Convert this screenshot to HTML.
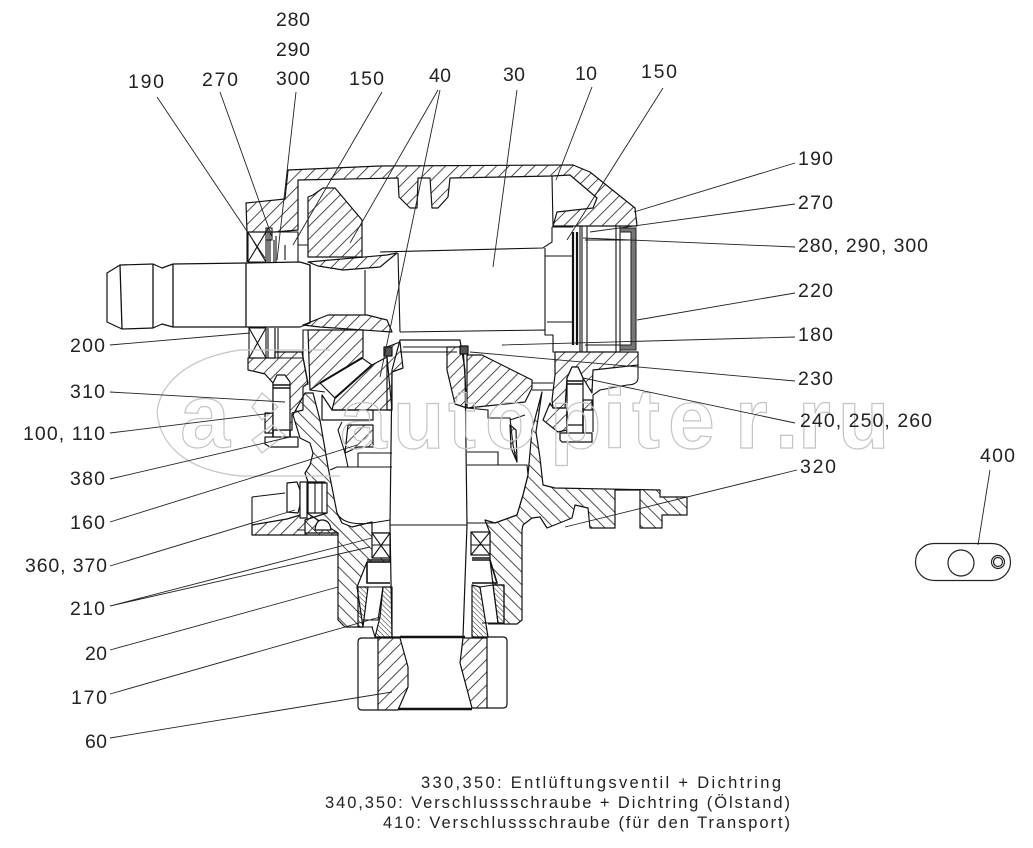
<!DOCTYPE html>
<html><head><meta charset="utf-8"><style>
html,body{margin:0;padding:0;background:#fff}
svg{display:block}
.l{fill:none;stroke:#111;stroke-width:1.1}
.t{stroke:#111;stroke-width:1.2;stroke-linejoin:round}
.a{fill:url(#h1)}.b{fill:url(#h2)}.c{fill:url(#h3)}.w{fill:#fff}
.ld{fill:none;stroke:#222;stroke-width:.9}
text{font-family:"Liberation Sans",sans-serif;fill:#222}
.lb{font-size:19.5px}
.nt{font-size:16.5px}
.wm{font-family:"Liberation Sans",sans-serif;font-weight:bold;fill:none;stroke:#c4c4c4;stroke-width:1.2}
</style></head><body>
<svg width="1033" height="848" viewBox="0 0 1033 848" xmlns="http://www.w3.org/2000/svg">
<defs>
<pattern id="h1" width="9" height="9" patternUnits="userSpaceOnUse" patternTransform="rotate(45)"><line x1="0" y1="0" x2="0" y2="9" stroke="#222" stroke-width="1.6"/></pattern>
<pattern id="h2" width="9" height="9" patternUnits="userSpaceOnUse" patternTransform="rotate(-45)"><line x1="0" y1="0" x2="0" y2="9" stroke="#222" stroke-width="1.6"/></pattern>
<pattern id="h3" width="3.5" height="3.5" patternUnits="userSpaceOnUse" patternTransform="rotate(-45)"><line x1="0" y1="0" x2="0" y2="3.5" stroke="#222" stroke-width="1"/></pattern>
</defs>

<!-- shaft -->
<path class="t w" d="M107 273L120 265L153 264L162 268L173 264L247 263L300 262L310 265V323L300 327L247 327L173 327L162 324L153 328L122 329L107 322Z"/>
<path class="l" d="M120 265L122 329M153 264V328M173 264V327M246 263V327M310 265V323" style="stroke-width:1.3"/>
<path class="l" d="M365 270V315M398 253L400 332M380 252L543 248L552 242V227M400 332L545 330V335H553V352H577M545 248V330M547 322H573M545 256H573M552 227H573"/>

<!-- top housing -->
<path class="t a" d="M246 203L285 199L288 170L380 166L573 165L590 172L635 208L637 226H553L557 212L593 208L597 198L570 175L552 176L450 178L448 197L438 208H432L430 178H418L417 208H410L399 197L398 178L298 180V230L275 232H247Z"/>
<path class="l" d="M552 176L553 226M247 232V262"/>
<!-- top bevel gear -->
<path class="t a" d="M308 197L313 195L323 188L335 188L362 220V257H308Z"/>
<path class="l" d="M275 232H298V262M276 236V262M268 228V262M285 245V260M298 245L308 245"/>
<!-- hub crescents -->
<path class="t a" d="M308 262L387 255L397 253L380 267L343 270L318 266Z"/>
<path class="t a" d="M303 325L328 315H367L387 320L392 332L320 327Z"/>

<!-- bearing top/bottom -->
<path class="l" d="M248 232H266V262H248ZM248 232L266 262M266 232L248 262M266 228H272V240H266Z"/>
<path class="l" d="M249 328H266V358H249ZM249 328L266 358M266 328L249 358M268 328V358M275 328V358M278 328V358"/>
<path class="l" d="M270 230V262M274 240V262"/>

<!-- left lower housing -->
<path class="t a" d="M248 358H275V352H302L308 383L303 387V410L292 413V430H273V383L265 374L257 372L248 370Z"/>
<path class="t a" d="M265 413H273V433H265Z"/>
<path class="l" d="M275 328V358H303V330H308M302 352L308 385"/>
<path class="t a" d="M308 330H363V357L320 383L310 390Z"/>
<path class="t a" d="M335 398L372 365L387 357L392 410H332Z"/>
<path class="l" d="M320 383L362 358M335 398L372 365" style="stroke-width:2"/>
<path class="l" d="M320 383L335 398M362 358L372 365M310 390L325 392"/>
<!-- left bolt -->
<path class="t w" d="M273 383L277 375H285L290 382V430H273Z"/>
<path class="t w" d="M265 437H298V447H270L265 444Z"/>
<path class="l" d="M273 430L273 437M290 430V437M273 385H290M273 388H290" style="stroke-width:1.6"/>

<!-- pinion column -->
<path class="t w" d="M400 340H460L465 370L467 525L463 637H392L390 525L392 370Z"/>
<path class="l" d="M390 525H467"/>
<path class="t a" d="M387 347L400 342L403 368L392 372L392 410H387Z"/>
<path class="t a" d="M447 347H463L467 408L455 404L447 370Z"/>
<path class="t" d="M384 347H392V356H384ZM460 346H468V354H460Z" style="fill:#555"/>
<path class="l" d="M403 347H447M400 352H457"/>

<!-- right bevel gear -->
<path class="t a" d="M467 355H482L532 380V388L525 402L467 408Z"/>
<path class="l" d="M532 383H553M532 390H553"/>

<!-- left housing band -->
<path class="t b" d="M293 415L305 393H313L320 420L328 467L337 513L342 523L352 527L372 522V533H390V562H367L357 587L363 627H345L338 620V533H305V520L327 513L325 482H308L305 473L310 465L313 453L310 443L300 438Z"/>
<path class="t b" d="M322 395L332 410H373V420H322Z" style="fill:none"/>
<path class="t a" d="M348 425H373V447H358L345 453Z"/>
<path class="l" d="M342 422L338 430L345 453L348 467M358 453H392M358 453V467M337 467H392M330 470L337 467M337 513C340 520 350 527 378 522L390 520"/>
<path class="l" d="M373 420H348M322 420H348"/>

<!-- right housing -->
<path class="t b" d="M542 392L536 432L540 458L543 485L555 488L660 490V497H687V515H662V528H640V490H615V528H590L588 508L575 505L572 518L547 528L540 517L532 518L523 525L522 530V620L517 624H504V585H493L490 560V533L485 520L495 523L517 515L523 495L528 475L532 430Z"/>
<path class="l" d="M467 465H527L528 475L523 495L517 515L495 523H467M467 452H498V465M467 408L488 410V418H510L513 445L517 462M510 420L525 415"/>
<path class="t a" d="M510 425L516 430L517 462L511 448Z"/>

<!-- upper right wall + bolt -->
<path class="t a" d="M555 352H638V365L593 370L592 393L583 378L578 367H572L567 378L565 408H553L552 400L555 375Z"/>
<path class="l" d="M638 365V378Q638 385 627 385L600 390L593 395V432"/>
<path class="t a" d="M550 403L553 408H567V430L558 432L543 420Z"/>
<path class="t a" d="M583 400H592V410H583Z"/>
<path class="t w" d="M567 378L572 367H578L583 378V425H567Z"/>
<path class="t w" d="M560 433H592V442H562L560 440Z"/>
<path class="l" d="M567 381H583M567 384H583M567 425V433M583 425V433M567 408V425M583 408V425" style="stroke-width:1.5"/>

<!-- lower-left flange -->
<path class="l" d="M252 497L285 493M252 497V535H338"/>
<path class="t a" d="M252 525L287 519L307 513L338 533V535H252Z"/>
<path class="t w" d="M315 530Q316 520 322 520Q330 520 331 530Z"/>
<path class="t w" d="M287 483L297 482L300 490V505L298 513L287 512Z"/>
<path class="t w" d="M300 482H307V518H300Z"/>
<path class="t w" d="M308 483H327V513H308Z"/>
<path class="l" d="M315 483V513M322 483V513"/>
<path class="l" d="M297 530H305V535"/>

<!-- seals -->
<path class="t w" d="M372 533H390V558H372Z"/><path class="l" d="M372 533L390 558M390 533L372 558M372 545H390"/>
<path class="t w" d="M471 532H490V555H471Z"/><path class="l" d="M471 532L490 555M490 532L471 555M471 545H490"/>
<path class="l" d="M367 562H390M367 562V583H390M472 560H490L497 583H472M367 560H390M472 558H490" style="stroke-width:1.6"/>
<!-- bearings -->
<path class="t c" d="M358 587H368L363 627H358Z"/>
<path class="t c" d="M383 587H392V637H375L380 617Z"/>
<path class="l" d="M368 587L383 587L378 620H363"/>
<path class="t c" d="M472 585L480 587L488 637H472Z"/>
<path class="t c" d="M493 585H504V623H498Z"/>
<path class="l" d="M480 587L493 585L498 623H482"/>
<path class="l" d="M345 627H373M488 624H517M372 627L375 637"/>

<!-- bottom coupling -->
<path class="t" style="fill:none;stroke-linejoin:round" d="M362 638H378M358 642Q358 638 362 638M358 642V706Q358 710 362 710H378M487 637H503Q507 637 507 641V704Q507 708 503 708H487"/>
<path class="t a" d="M378 638H400L408 667V687L398 710H378Z"/>
<path class="t a" d="M463 638H487V708H472L460 663Z"/>
<path class="l" d="M400 637H465M398 709H472" style="stroke-width:2.4"/>

<!-- right side rings and cap -->
<path class="l" d="M573 232V345M577 232V345" style="stroke-width:2.2"/>
<path class="l" d="M580 226V352M582 226V352M587 226V352M616 226V352M620 226V352M553 352H636M585 240H630M585 345H625"/>
<path d="M620 228H636V350H620V345H631V232H620Z" fill="#777" stroke="#222" stroke-width="1"/>

<!-- watermark -->
<path class="wm" style="font-weight:normal" d="M157 412C160 385 185 358 240 350L330 350M157 412C160 445 185 470 240 476L340 476"/>
<path class="wm" style="font-weight:normal" d="M262 393L278 407L262 420L252 407ZM252 440L262 453L285 435L272 425Z"/>
<text class="wm" x="180" y="447" font-size="90">a</text>
<text class="wm" x="340 393 448 485 550 603 632 668 735 775 798 838" y="448" font-size="84">autopiter.ru</text>

<!-- leaders -->
<path class="ld" d="M157 97L265 258M220 92L272 237M296 92L277 260M382 92L293 245M438 90L350 243M440 90L380 377M517 90L493 267M592 87L556 180M663 88L567 240"/>
<path class="ld" d="M795 163L634 212M795 204L590 232M795 247L583 238M795 293L637 320M795 337L502 345M795 381L470 352M795 423L583 378M797 470L565 527M990 470L978 545"/>
<path class="ld" d="M110 345L250 333M110 392L285 402M110 433L273 413M110 479L290 437M110 522L357 445M110 566L295 510M110 606L372 538M110 606L370 547M110 650L338 587M110 694L380 617M110 738L392 692"/>

<!-- part 400 -->
<rect x="915.500" y="543.500" width="95" height="37" rx="18.500" fill="none" stroke="#222" stroke-width="1.2"/>
<circle cx="961" cy="563" r="13" fill="none" stroke="#222" stroke-width="1.2"/>
<circle cx="998" cy="562" r="6.500" fill="none" stroke="#222" stroke-width="1.200"/>
<circle cx="998" cy="562" r="4.500" fill="none" stroke="#222" stroke-width="1.200"/>

<!-- labels -->
<g class="lb">
<text x="276" y="26" textLength="34">280</text>
<text x="276" y="56" textLength="34">290</text>
<text x="276" y="85" textLength="34">300</text>
<text x="128" y="88" textLength="36">190</text>
<text x="202" y="86" textLength="36">270</text>
<text x="349" y="85" textLength="35">150</text>
<text x="429" y="82" textLength="22">40</text>
<text x="503" y="81" textLength="22">30</text>
<text x="575" y="80" textLength="22">10</text>
<text x="641" y="78" textLength="36">150</text>
<text x="798" y="165" textLength="35">190</text>
<text x="798" y="209" textLength="35">270</text>
<text x="798" y="252" textLength="130">280, 290, 300</text>
<text x="798" y="297" textLength="35">220</text>
<text x="798" y="341" textLength="35">180</text>
<text x="798" y="385" textLength="35">230</text>
<text x="800" y="427" textLength="132">240, 250, 260</text>
<text x="800" y="473" textLength="36">320</text>
<text x="980" y="462" textLength="35">400</text>
<text x="70" y="352" textLength="35">200</text>
<text x="70" y="398" textLength="35">310</text>
<text x="23" y="440" textLength="82">100, 110</text>
<text x="70" y="485" textLength="35">380</text>
<text x="70" y="529" textLength="35">160</text>
<text x="25" y="572" textLength="82">360, 370</text>
<text x="70" y="615" textLength="35">210</text>
<text x="85" y="660" textLength="22">20</text>
<text x="71" y="704" textLength="36">170</text>
<text x="85" y="748" textLength="22">60</text>
</g>
<g class="nt">
<text x="421" y="788" textLength="360">330,350: Entlüftungsventil + Dichtring</text>
<text x="325" y="808" textLength="465">340,350: Verschlussschraube + Dichtring (Ölstand)</text>
<text x="383" y="828" textLength="407">410: Verschlussschraube (für den Transport)</text>
</g>
</svg>
</body></html>
